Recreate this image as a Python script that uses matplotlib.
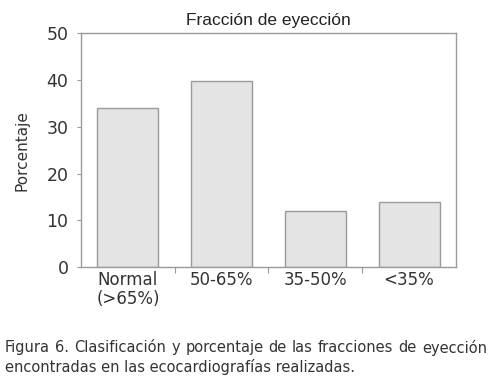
import matplotlib
matplotlib.use("Agg")
import matplotlib.pyplot as plt

# data
categories = ["Normal\n(>65%)", "50-65%", "35-50%", "<35%"]
values = [34.0, 39.7, 12.0, 14.0]
yticks = [0, 10, 20, 30, 40, 50]
caption_1 = "Figura 6. Clasificación y porcentaje de las fracciones de eyección"
caption_2 = "encontradas en las ecocardiografías realizadas."

plt.rcParams['font.family'] = ['Liberation Sans', 'DejaVu Sans']

fig = plt.figure(figsize=(4.94, 3.81), dpi=100)
ax = fig.add_axes([0.164, 0.299, 0.759, 0.614])

x = range(len(categories))
ax.bar(x, values, width=0.65, color="#e4e4e4", edgecolor="#9a9a9a", linewidth=1.0)

ax.set_xlim(-0.5, len(categories) - 0.5)
ax.set_ylim(0, 50)
ax.set_yticks(yticks)
ax.set_yticklabels([str(t) for t in yticks], fontsize=12.5, color="#333333",
                   family=['DejaVu Sans'])

# category labels between the boundary ticks
ax.set_xticks([i + 0.5 for i in range(len(categories) - 1)])
ax.set_xticklabels([])
ax.set_xticks(list(x), minor=True)
ax.set_xticklabels(categories, minor=True, fontsize=12, color="#333333",
                   linespacing=1.05, family=['DejaVu Sans'])
ax.tick_params(axis="x", which="minor", length=0, pad=3)
ax.tick_params(axis="x", which="major", length=4, color="#9a9a9a", direction="out")
ax.tick_params(axis="y", length=3, color="#9a9a9a", pad=6)

for s in ax.spines.values():
    s.set_color("#9a9a9a")
    s.set_linewidth(1.0)

ax.set_title("Fracción de eyección", fontsize=12.5, color="#222222", pad=6)
ax.set_ylabel("Porcentaje", fontsize=11, color="#333333", labelpad=12,
              family=['DejaVu Sans'])

# caption: first line justified across the width
fig.canvas.draw()
r = fig.canvas.get_renderer()
x0, x1 = 5, 487
words = caption_1.split()
objs = [fig.text(0, 0.087, w, fontsize=10.5, color="#333333", va="center",
                 family=['DejaVu Sans']) for w in words]
widths = [o.get_window_extent(r).width for o in objs]
gap = (x1 - x0 - sum(widths)) / (len(words) - 1)
pos = x0
for o, w in zip(objs, widths):
    o.set_x(pos / 494)
    pos += w + gap
fig.text(x0 / 494, 0.037, caption_2, fontsize=10.5, color="#333333", va="center",
         family=['DejaVu Sans'])

fig.savefig("out.png", dpi=100)
